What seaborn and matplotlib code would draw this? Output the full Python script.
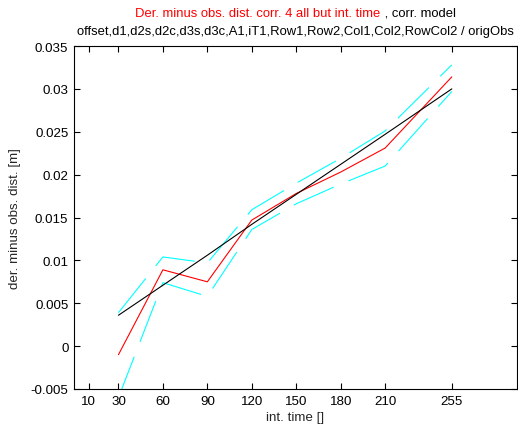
import matplotlib
matplotlib.use("Agg")
import matplotlib.pyplot as plt
import seaborn as sns
import pandas as pd
from matplotlib.ticker import FuncFormatter

# ---- data ----
int_time = [30, 60, 90, 120, 150, 180, 210, 255]
der_minus_obs = [-0.0010, 0.0089, 0.0075, 0.0147, 0.0178, 0.0203, 0.0231, 0.0314]
upper_bound = [0.0039, 0.0104, 0.0097, 0.0159, 0.0190, 0.0219, 0.0251, 0.0328]
lower_bound = [-0.0060, 0.0074, 0.0058, 0.0136, 0.0166, 0.0189, 0.0210, 0.0297]
fit_line = [0.0036, 0.0071, 0.0106, 0.0142, 0.0177, 0.0212, 0.0247, 0.0300]
x_ticks = [10, 30, 60, 90, 120, 150, 180, 210, 255]
y_ticks = [-0.005, 0, 0.005, 0.01, 0.015, 0.02, 0.025, 0.03, 0.035]

title_red = "Der. minus obs. dist. corr. 4 all but int. time"
title_black = " , corr. model"
title_line2 = "offset,d1,d2s,d2c,d3s,d3c,A1,iT1,Row1,Row2,Col1,Col2,RowCol2 / origObs"

sns.set_style("ticks")
plt.rcParams['font.family'] = ['Liberation Sans', 'DejaVu Sans']
plt.rcParams['axes.unicode_minus'] = False
plt.rcParams['lines.scale_dashes'] = False

df = pd.DataFrame({"t": int_time, "val": der_minus_obs, "up": upper_bound,
                   "lo": lower_bound, "fit": fit_line})

FS = 9.6
FT = 9.4
W, H = 518, 427
fig = plt.figure(figsize=(W / 100, H / 100), dpi=100, facecolor="white")
ax = fig.add_axes([74 / W, 1 - 390 / H, (517 - 74) / W, (390 - 47) / H])
ax.set_facecolor("white")

dash = (0, (31.5, 11.5))
sns.lineplot(data=df, x="t", y="up", ax=ax, color="cyan", lw=0.8, linestyle=dash)
sns.lineplot(data=df, x="t", y="lo", ax=ax, color="cyan", lw=0.8, linestyle=dash)
sns.lineplot(data=df, x="t", y="val", ax=ax, color="red", lw=0.8)
sns.lineplot(data=df, x="t", y="fit", ax=ax, color="black", lw=0.8)

ax.set_xlim(0, 299)
ax.set_ylim(-0.005, 0.035)
ax.set_xticks(x_ticks)
ax.set_yticks(y_ticks)
ax.yaxis.set_major_formatter(FuncFormatter(lambda v, p: "%g" % v))
ax.tick_params(direction="in", length=4, width=0.8, top=True, right=True,
               labelsize=FS, colors="black", pad=4)
for s in ax.spines.values():
    s.set_visible(True)
    s.set_linewidth(0.8)
    s.set_color("black")
ax.set_xlabel("int. time []", fontsize=FS, labelpad=3)
ax.set_ylabel("der. minus obs. dist. [m]", fontsize=FS, labelpad=7)

# two-colour title
fig.canvas.draw()
r = fig.canvas.get_renderer()
cx = (74 + 517) / 2 / W
y1 = 1 - 14 / H
t1 = fig.text(0, y1, title_red, color="red", fontsize=FT, va="center", ha="left")
t2 = fig.text(0, y1, title_black, color="black", fontsize=FT, va="center", ha="left")
w1 = t1.get_window_extent(r).width / W
w2 = t2.get_window_extent(r).width / W
x0 = cx - (w1 + w2) / 2
t1.set_x(x0)
t2.set_x(x0 + w1)
fig.text(cx, 1 - 32 / H, title_line2, color="black", fontsize=FT, va="center", ha="center")

fig.savefig("out.png", dpi=100, facecolor="white")
